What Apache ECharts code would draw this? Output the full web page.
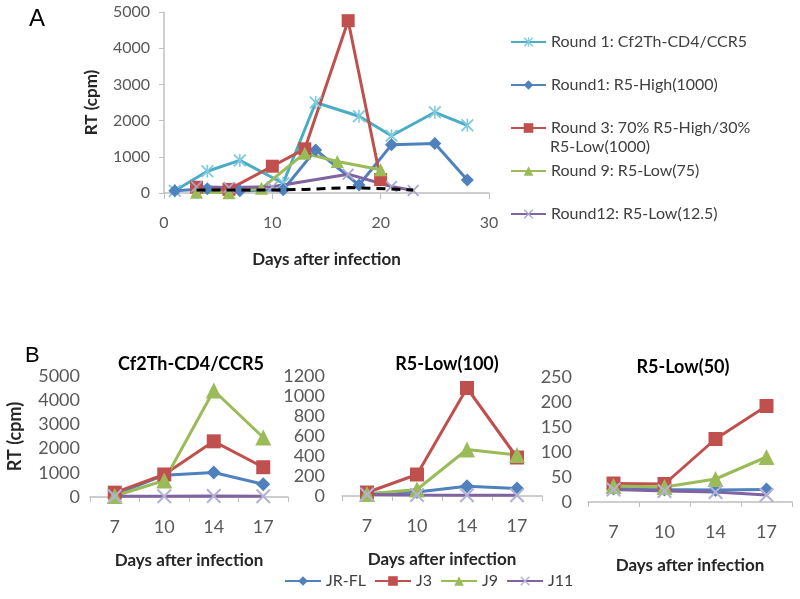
<!DOCTYPE html>
<html>
<head>
<meta charset="utf-8">
<script src="https://cdn.jsdelivr.net/npm/echarts@6/dist/echarts.min.js"></script>
<style>
html,body{margin:0;padding:0;background:#fff;}
#chart{width:800px;height:599px;}
</style>
</head>
<body>
<div id="chart"></div>
<script>
// ---------- Panel A data ----------
const aNames = ['Round 1: Cf2Th-CD4/CCR5', 'Round1: R5-High(1000)', 'Round 3: 70% R5-High/30% R5-Low(1000)', 'Round 9: R5-Low(75)', 'Round12: R5-Low(12.5)'];
const aR1CfDays = [1, 4, 7, 11, 14, 18, 21, 25, 28];
const aR1CfVals = [60, 600, 900, 270, 2500, 2120, 1580, 2230, 1870];
const aR1HiDays = [1, 4, 7, 11, 14, 18, 21, 25, 28];
const aR1HiVals = [60, 120, 60, 90, 1190, 220, 1330, 1370, 360];
const aR3Days = [3, 6, 10, 13, 17, 20];
const aR3Vals = [160, 100, 740, 1220, 4760, 370];
const aR9Days = [3, 6, 9, 13, 16, 20];
const aR9Vals = [20, 10, 130, 1100, 870, 640];
const aR12Days = [3, 6, 10, 17, 21, 23];
const aR12Vals = [170, 150, 170, 520, 180, 70];
const aBaseDays = [3, 6, 10, 13, 17, 21, 23];
const aBaseVals = [80, 80, 80, 100, 150, 110, 80];

// ---------- Panel B data ----------
const bDays = ['7', '10', '14', '17'];
const bNames = ['JR-FL', 'J3', 'J9', 'J11'];
const bTitles = ['Cf2Th-CD4/CCR5', 'R5-Low(100)', 'R5-Low(50)'];
const b1 = {
  'JR-FL': [100, 900, 1010, 530],
  'J3': [180, 930, 2300, 1230],
  'J9': [40, 680, 4400, 2460],
  'J11': [30, 30, 40, 30]
};
const b2 = {
  'JR-FL': [25, 40, 97, 75],
  'J3': [35, 215, 1080, 385],
  'J9': [20, 65, 465, 410],
  'J11': [15, 10, 8, 8]
};
const b3 = {
  'JR-FL': [27, 25, 24, 25],
  'J3': [37, 36, 126, 192],
  'J9': [32, 30, 46, 90],
  'J11': [25, 22, 20, 14]
};

// ---------- styles ----------
const cCyan = '#4BACC6', cBlue = '#4F81BD', cRed = '#C0504D', cGreen = '#9BBB59', cPurple = '#8064A2';
const xPath = 'path://M0,1 L1,0 L5,4 L9,0 L10,1 L6,5 L10,9 L9,10 L5,6 L1,10 L0,9 L4,5 Z';
const starPath = 'path://M0,1 L1,0 L5,4 L9,0 L10,1 L6,5 L10,9 L9,10 L5,6 L1,10 L0,9 L4,5 Z M4.4,0 L5.6,0 L5.6,10 L4.4,10 Z';
const FONT = 'Lato';
const labelGray = '#595959';
const axisGray = '#BFBFBF';
const plain = function (v) { return String(v); };

function pairs(d, v) { return d.map((x, i) => [x, v[i]]); }

const chart = echarts.init(document.getElementById('chart'), null, {renderer: 'canvas'});

const grids = [
  {left: 164, top: 12, width: 325, height: 181},
  {left: 90, top: 376, width: 198, height: 121},
  {left: 342, top: 376, width: 200, height: 120},
  {left: 588, top: 377, width: 204, height: 125}
];

const xAxes = [
  {gridIndex: 0, type: 'value', min: 0, max: 30, interval: 10,
   axisLine: {lineStyle: {color: axisGray, width: 1.5}}, axisTick: {show: true, length: 6, lineStyle: {color: axisGray}},
   splitLine: {show: false}, axisLabel: {color: labelGray, fontFamily: FONT, fontSize: 16, margin: 22, formatter: plain},
   name: 'Days after infection', nameLocation: 'middle', nameGap: 58,
   nameTextStyle: {fontFamily: FONT, fontWeight: 'bold', fontSize: 17, color: '#262626'}}
];
const yAxes = [
  {gridIndex: 0, type: 'value', min: 0, max: 5000, interval: 1000,
   axisLine: {show: true, lineStyle: {color: axisGray, width: 1.5}}, axisTick: {show: true, length: 5, lineStyle: {color: axisGray}},
   splitLine: {show: false}, axisLabel: {color: labelGray, fontFamily: FONT, fontSize: 16, margin: 14, formatter: plain},
   name: 'RT (cpm)', nameLocation: 'middle', nameGap: 64, nameRotate: 90,
   nameTextStyle: {fontFamily: FONT, fontWeight: 'bold', fontSize: 17, color: '#262626'}}
];
const bMax = [5000, 1200, 250];
const bInt = [1000, 200, 50];
const bYMargin = [10, 17, 16];
for (let g = 0; g < 3; g++) {
  xAxes.push({gridIndex: g + 1, type: 'category', data: bDays, boundaryGap: true,
    axisLine: {lineStyle: {color: axisGray, width: 1.5}}, axisTick: {show: true, length: 5, lineStyle: {color: axisGray}},
    axisLabel: {color: labelGray, fontFamily: FONT, fontSize: 18, margin: 21},
    name: 'Days after infection', nameLocation: 'middle', nameGap: 55,
    nameTextStyle: {fontFamily: FONT, fontWeight: 'bold', fontSize: 17, color: '#262626'}});
  const y = {gridIndex: g + 1, type: 'value', min: 0, max: bMax[g], interval: bInt[g],
    axisLine: {show: false}, axisTick: {show: false}, splitLine: {show: false},
    axisLabel: {color: labelGray, fontFamily: FONT, fontSize: 18, margin: bYMargin[g], formatter: plain}};
  if (g === 0) {
    y.name = 'RT (cpm)'; y.nameLocation = 'middle'; y.nameGap = 66; y.nameRotate = 90;
    y.nameTextStyle = {fontFamily: FONT, fontWeight: 'bold', fontSize: 18, color: '#262626'};
  }
  yAxes.push(y);
}

const series = [];
function aLine(name, d, v, color, symbol, size, symColor) {
  series.push({name: name, type: 'line', xAxisIndex: 0, yAxisIndex: 0, data: pairs(d, v),
    lineStyle: {color: color, width: 3}, itemStyle: {color: symColor || color},
    symbol: symbol, symbolSize: size, showSymbol: true, z: 3});
}
aLine(aNames[0], aR1CfDays, aR1CfVals, cCyan, starPath, 13, '#7FCBDD');
aLine(aNames[1], aR1HiDays, aR1HiVals, cBlue, 'diamond', 13);
aLine(aNames[2], aR3Days, aR3Vals, cRed, 'rect', 13);
aLine(aNames[3], aR9Days, aR9Vals, cGreen, 'triangle', 13);
aLine(aNames[4], aR12Days, aR12Vals, cPurple, xPath, 12, '#A9A7CC');
series.push({name: 'baseline', type: 'line', xAxisIndex: 0, yAxisIndex: 0, data: pairs(aBaseDays, aBaseVals),
  lineStyle: {color: '#000', width: 3, type: [9, 6]}, symbol: 'none', z: 4});

const bColors = [cBlue, cRed, cGreen, cPurple];
const bSymbols = ['diamond', 'rect', 'triangle', xPath];
const bSizes = [14, 14, 16, 15];
const bSymColors = [cBlue, cRed, cGreen, '#B4B2D4'];
[b1, b2, b3].forEach((set, g) => {
  bNames.forEach((n, i) => {
    series.push({name: n, type: 'line', xAxisIndex: g + 1, yAxisIndex: g + 1, data: set[n],
      lineStyle: {color: bColors[i], width: 3}, itemStyle: {color: bSymColors[i]},
      symbol: bSymbols[i], symbolSize: bSizes[i], showSymbol: true});
  });
});

const option = {
  backgroundColor: '#fff',
  animation: false,
  title: [
    {text: bTitles[0], left: 186, top: 350, textAlign: 'center', textStyle: {fontFamily: FONT, fontWeight: 'bold', fontSize: 18, color: '#000'}},
    {text: bTitles[1], left: 442, top: 350, textAlign: 'center', textStyle: {fontFamily: FONT, fontWeight: 'bold', fontSize: 18, color: '#000'}},
    {text: bTitles[2], left: 678, top: 353, textAlign: 'center', textStyle: {fontFamily: FONT, fontWeight: 'bold', fontSize: 18, color: '#000'}},
    {text: 'A', left: 24, top: 2, textStyle: {fontFamily: 'Liberation Sans', fontWeight: 'normal', fontSize: 24, color: '#000'}},
    {text: 'B', left: 20, top: 340, textStyle: {fontFamily: 'Liberation Sans', fontWeight: 'normal', fontSize: 22, color: '#000'}}
  ],
  legend: [
    {data: aNames, orient: 'vertical', left: 510, top: 32, padding: 0, itemWidth: 35, itemHeight: 12, itemGap: 23,
     textStyle: {fontFamily: FONT, fontSize: 16, lineHeight: 20, color: '#404040'},
     formatter: function (n) { return n === aNames[2] ? 'Round 3: 70% R5-High/30%' : n; }},
    {data: bNames, orient: 'horizontal', left: 284, top: 572, padding: 0, itemWidth: 36, itemHeight: 12, itemGap: 8,
     textStyle: {fontFamily: FONT, fontSize: 16, lineHeight: 18, color: '#404040'}}
  ],
  graphic: [
    {type: 'text', left: 550, top: 139, style: {text: 'R5-Low(1000)', font: '16px Lato', fill: '#404040'}}
  ],
  grid: grids,
  xAxis: xAxes,
  yAxis: yAxes,
  series: series
};
chart.setOption(option);
</script>
</body>
</html>
